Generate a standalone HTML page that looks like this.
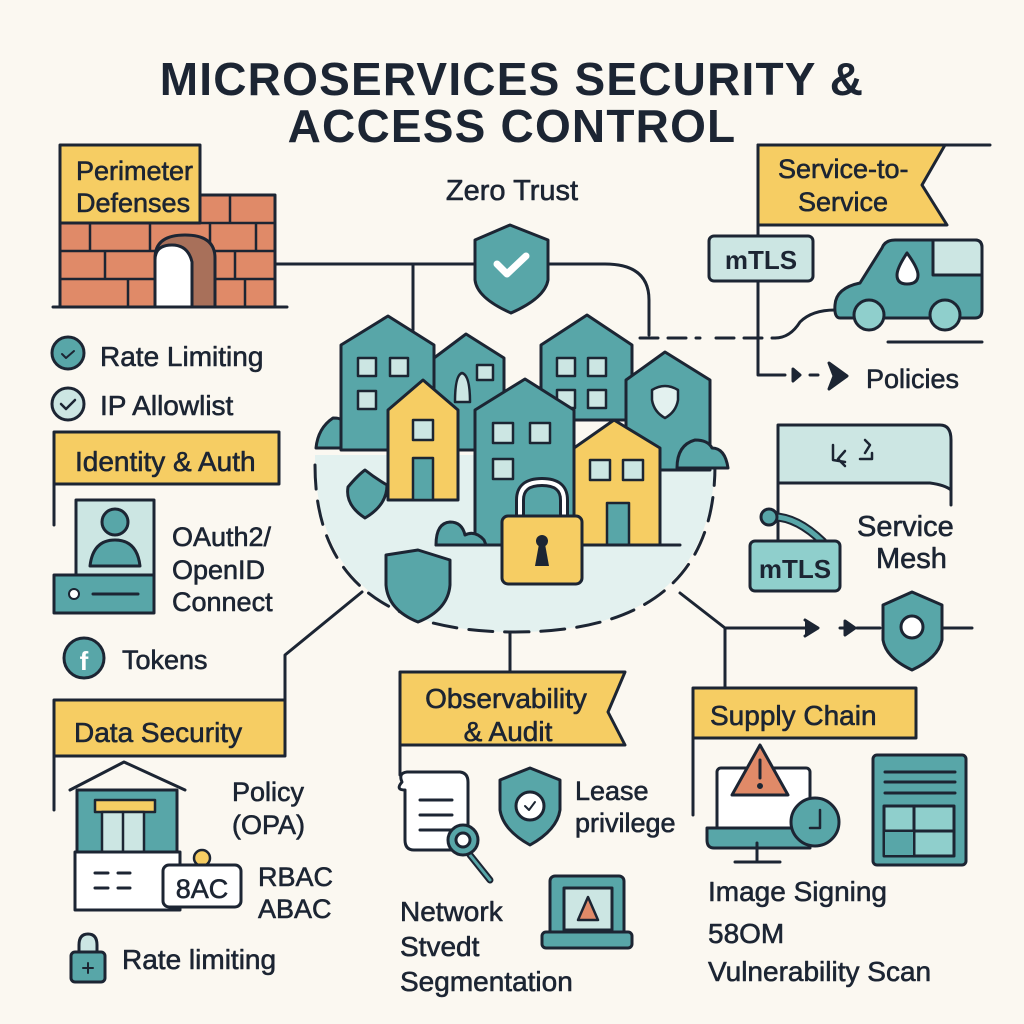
<!DOCTYPE html>
<html><head><meta charset="utf-8"><style>
html,body{margin:0;padding:0;background:#fbf8f1}
svg{display:block}
text{font-family:"Liberation Sans",sans-serif;fill:#1c2533;stroke:#1c2533;stroke-width:0.6}
</style></head><body>
<svg width="1024" height="1024" viewBox="0 0 1024 1024" xmlns="http://www.w3.org/2000/svg">
<rect width="1024" height="1024" fill="#fbf8f1"/>
<g stroke="#1c2533" stroke-width="3" stroke-linejoin="round" stroke-linecap="round">
<text x="512" y="95" text-anchor="middle" font-size="46" font-weight="bold" letter-spacing="1.2" style="stroke-width:0">MICROSERVICES SECURITY &amp;</text>
<text x="512" y="142" text-anchor="middle" font-size="46" font-weight="bold" letter-spacing="1.2" style="stroke-width:0">ACCESS CONTROL</text>

<path d="M275 264 H475 M548 264 H605 Q649 264 649 300 V335" fill="none"/>
<path d="M413 264 V330" fill="none"/>
<path d="M640 338 H700 M716 338 H775" fill="none" stroke-dasharray="18 10"/>
<path d="M775 338 Q790 338 800 322 Q812 310 835 310" fill="none"/>
<path d="M758 225 V375 H785" fill="none"/>
<path d="M810 375 H818" fill="none"/>
<path d="M793 369 L800 375 L793 381Z M829 363 L847 376 L829 389 L834 376Z" fill="#1c2533"/>
<path d="M888 342 H982" fill="none"/>
<text x="866" y="388" font-size="27">Policies</text>

<rect x="60" y="195" width="215" height="112" fill="#e08a68"/>
<path d="M60 223 H275 M60 251 H275 M60 279 H275 M117 195 V223 M175 195 V223 M230 195 V223 M90 223 V251 M150 223 V251 M210 223 V251 M256 223 V251 M105 251 V279 M170 251 V279 M235 251 V279 M128 279 V307 M190 279 V307 M245 279 V307" fill="none" stroke-width="2.5"/>
<path d="M155 307 V258 Q155 235 185 235 Q215 235 215 258 V307Z" fill="#a8705a"/>
<path d="M155 307 V260 Q155 245 172 245 Q188 245 192 262 V307Z" fill="#fff"/>
<path d="M53 307 H287" fill="none"/>
<rect x="60" y="145" width="140" height="78" fill="#f6cd63"/>
<text x="76" y="180" font-size="27">Perimeter</text>
<text x="76" y="212" font-size="27">Defenses</text>

<circle cx="68" cy="353" r="16" fill="#58a6a8"/>
<path d="M62 354 l4 4 l8 -7" fill="none" stroke-width="2"/>
<text x="100" y="366" font-size="28">Rate Limiting</text>
<circle cx="68" cy="404" r="16" fill="#cce6e3"/>
<path d="M61 404 l5 5 l9 -9" fill="none" stroke-width="2.5"/>
<text x="100" y="415" font-size="28">IP Allowlist</text>

<path d="M54 440 V525" fill="none"/>
<rect x="54" y="432" width="225" height="52" fill="#f6cd63"/>
<text x="75" y="471" font-size="28">Identity &amp; Auth</text>
<rect x="76" y="500" width="78" height="75" fill="#cce6e3"/>
<circle cx="115" cy="522" r="13" fill="#58a6a8"/>
<path d="M90 566 Q93 540 115 540 Q137 540 140 566Z" fill="#58a6a8"/>
<rect x="54" y="575" width="100" height="38" fill="#58a6a8"/>
<circle cx="74" cy="594" r="5" fill="#fff" stroke-width="2"/>
<path d="M93 594 H138" fill="none"/>
<text x="172" y="546" font-size="27">OAuth2/</text>
<text x="172" y="579" font-size="27">OpenID</text>
<text x="172" y="611" font-size="27">Connect</text>
<circle cx="84" cy="658" r="20" fill="#58a6a8"/>
<text x="84" y="670" text-anchor="middle" font-size="26" font-weight="bold" style="fill:#fff;stroke:none">f</text>
<text x="122" y="669" font-size="27">Tokens</text>

<path d="M362 592 L285 655 V705" fill="none"/>
<path d="M54 705 V810" fill="none"/>
<rect x="54" y="700" width="231" height="56" fill="#f6cd63"/>
<text x="74" y="742" font-size="28">Data Security</text>

<path d="M70 790 L124 762 L185 790" fill="none"/>
<rect x="77" y="790" width="100" height="83" fill="#58a6a8"/>
<rect x="95" y="800" width="60" height="12" fill="#f6cd63" stroke-width="2.5"/>
<rect x="102" y="812" width="42" height="55" fill="#cce6e3" stroke-width="2.5"/>
<path d="M123 812 V867" fill="none" stroke-width="2.5"/>
<rect x="75" y="852" width="105" height="58" fill="#fff"/>
<path d="M95 873 H108 M118 873 H130 M95 888 H108 M118 888 H130" fill="none"/>
<circle cx="202" cy="858" r="8" fill="#f6cd63" stroke-width="2.5"/>
<rect x="163" y="865" width="78" height="42" rx="6" fill="#fff"/>
<text x="202" y="898" text-anchor="middle" font-size="27">8AC</text>
<text x="232" y="801" font-size="27">Policy</text>
<text x="232" y="834" font-size="27">(OPA)</text>
<text x="258" y="886" font-size="27">RBAC</text>
<text x="258" y="918" font-size="27">ABAC</text>
<path d="M79 955 V945 Q79 934 88 934 Q97 934 97 945 V955" fill="#cce6e3"/>
<rect x="71" y="952" width="34" height="30" rx="4" fill="#58a6a8"/>
<path d="M88 963 V973 M83 968 H93" fill="none" stroke-width="2"/>
<text x="122" y="969" font-size="28">Rate limiting</text>

<path d="M315 455 H715 Q715 632 515 632 Q315 632 315 455Z" fill="#e3f1ef" stroke="none"/>
<path d="M315 465 Q315 632 515 632 Q715 632 715 465" fill="none" stroke-dasharray="24 12"/>
<path d="M510 632 V672 M680 593 L725 628 H805 M857 628 H880 M940 628 H972 M725 628 V688" fill="none"/>
<path d="M840 628 H850" fill="none"/>
<path d="M805 620 L818 628 L805 636 M845 621 L855 628 L845 635Z" fill="#1c2533"/>

<path d="M316 448 Q318 428 333 418 Q340 418 341 420 V448Z" fill="#58a6a8"/>
<path d="M341 450 V345 L388 316 L434 345 V450Z" fill="#58a6a8"/>
<rect x="358" y="358" width="18" height="18" fill="#cce6e3" stroke-width="2.5"/>
<rect x="390" y="358" width="18" height="18" fill="#cce6e3" stroke-width="2.5"/>
<rect x="358" y="391" width="18" height="18" fill="#cce6e3" stroke-width="2.5"/>
<path d="M434 450 V358 L466 334 L504 358 V450Z" fill="#58a6a8"/>
<rect x="477" y="365" width="16" height="15" fill="#cce6e3" stroke-width="2.5"/>
<path d="M455 402 Q455 375 462 373 Q470 375 470 402Z" fill="#cce6e3" stroke-width="2.5"/>
<path d="M541 420 V345 L587 315 L632 345 V420Z" fill="#58a6a8"/>
<rect x="557" y="358" width="18" height="18" fill="#cce6e3" stroke-width="2.5"/>
<rect x="588" y="358" width="18" height="18" fill="#cce6e3" stroke-width="2.5"/>
<rect x="557" y="390" width="18" height="18" fill="#cce6e3" stroke-width="2.5"/>
<rect x="588" y="390" width="18" height="18" fill="#cce6e3" stroke-width="2.5"/>
<path d="M626 470 V380 L665 352 L710 380 V470Z" fill="#58a6a8"/>
<path d="M652 390 Q665 382 678 390 V400 Q676 412 665 418 Q654 412 652 400Z" fill="#e3f1ef" stroke-width="2.5"/>
<path d="M677 468 Q677 445 695 440 Q708 440 712 448 Q725 448 728 468Z" fill="#58a6a8"/>
<path d="M388 500 V410 L423 380 L458 410 V500Z" fill="#f6cd63"/>
<rect x="413" y="420" width="20" height="20" fill="#cce6e3" stroke-width="2.5"/>
<rect x="413" y="458" width="20" height="42" fill="#58a6a8" stroke-width="2.5"/>
<path d="M348 487 Q358 475 365 470 Q375 478 387 485 Q387 505 365 518 Q345 505 348 487Z" fill="#58a6a8"/>
<path d="M475 545 V410 L525 379 L574 410 V545Z" fill="#58a6a8"/>
<rect x="493" y="423" width="20" height="20" fill="#cce6e3" stroke-width="2.5"/>
<rect x="530" y="423" width="20" height="20" fill="#cce6e3" stroke-width="2.5"/>
<rect x="493" y="459" width="20" height="20" fill="#cce6e3" stroke-width="2.5"/>
<path d="M574 545 V448 L614 420 L660 448 V545Z" fill="#f6cd63"/>
<rect x="590" y="460" width="20" height="20" fill="#cce6e3" stroke-width="2.5"/>
<rect x="623" y="460" width="20" height="20" fill="#cce6e3" stroke-width="2.5"/>
<rect x="607" y="503" width="22" height="42" fill="#58a6a8" stroke-width="2.5"/>
<path d="M436 545 Q436 523 450 522 Q462 522 465 535 Q475 530 484 540 L486 545Z" fill="#58a6a8"/>
<path d="M436 545 H680" fill="none"/>
<path d="M520 516 V500 Q520 482 542 482 Q564 482 564 500 V516" fill="none" stroke="#1c2533" stroke-width="10"/>
<path d="M520 516 V500 Q520 482 542 482 Q564 482 564 500 V516" fill="none" stroke="#fff" stroke-width="4"/>
<rect x="502" y="516" width="80" height="68" rx="6" fill="#f6cd63"/>
<circle cx="542" cy="541" r="6" fill="#1c2533" stroke="none"/>
<path d="M539 544 L535 566 H549 L545 544Z" fill="#1c2533" stroke="none"/>
<path d="M386 555 L418 550 L450 560 V585 Q448 610 418 622 Q388 610 386 585Z" fill="#58a6a8"/>

<text x="512" y="200" text-anchor="middle" font-size="29">Zero Trust</text>
<path d="M475 240 L510 225 L548 240 V280 Q545 298 511 313 Q477 298 475 280Z" fill="#58a6a8"/>
<path d="M497 264 L507 274 L526 256" fill="none" stroke="#fff" stroke-width="7"/>

<path d="M758 145 H990" fill="none"/>
<path d="M758 145 H945 L922 185 L947 225 H758Z" fill="#f6cd63"/>
<text x="778" y="178" font-size="27">Service-to-</text>
<text x="798" y="211" font-size="27">Service</text>
<rect x="709" y="236" width="104" height="45" rx="5" fill="#cce6e3"/>
<text x="761" y="269" text-anchor="middle" font-size="26" font-weight="bold" style="stroke-width:0">mTLS</text>
<path d="M835 305 Q836 288 860 283 L882 248 Q885 240 895 240 H975 Q982 240 982 248 V310 Q982 318 975 318 H840 Q834 318 835 305Z" fill="#58a6a8"/>
<path d="M933 240 H975 Q982 240 982 248 V275 H933Z" fill="#cce6e3"/>
<path d="M907 253 Q897 268 897 275 Q897 284 907 284 Q918 284 918 275 Q918 268 907 253Z" fill="#fff"/>
<circle cx="869" cy="315" r="15" fill="#8fcfcc"/>
<circle cx="945" cy="315" r="15" fill="#8fcfcc"/>

<path d="M778 425 H940 Q951 425 951 440 V490 Q945 485 930 483 H778Z" fill="#cce6e3"/>
<path d="M951 490 V505 M778 483 V545" fill="none"/>
<path d="M833 445 V460 L845 462 M845 466 L838 459 L845 451 M865 440 L870 445 L865 453 M860 459 H872 V453" fill="none" stroke-width="2.5"/>
<path d="M770 517 Q795 515 823 542" fill="none" stroke="#1c2533" stroke-width="9"/>
<path d="M770 517 Q795 515 823 542" fill="none" stroke="#58a6a8" stroke-width="5"/>
<circle cx="769" cy="517" r="8" fill="#58a6a8"/>
<rect x="750" y="541" width="90" height="50" rx="5" fill="#8fcfcc"/>
<text x="795" y="578" text-anchor="middle" font-size="26" font-weight="bold" style="stroke-width:0">mTLS</text>
<text x="857" y="536" font-size="29">Service</text>
<text x="876" y="568" font-size="29">Mesh</text>
<path d="M883 605 L912 592 L942 605 V640 Q938 658 912 670 Q886 658 883 640Z" fill="#58a6a8"/>
<circle cx="912" cy="627" r="11" fill="#fff"/>

<path d="M400 672 H625 L608 712 L625 745 H400Z" fill="#f6cd63"/>
<text x="506" y="708" text-anchor="middle" font-size="28">Observability</text>
<text x="508" y="741" text-anchor="middle" font-size="28">&amp; Audit</text>
<path d="M400 745 V775" fill="none"/>
<path d="M402 782 Q398 773 407 772 H460 Q468 773 468 782 V850 H414 Q405 850 405 840 V790 Q395 790 402 782Z" fill="#fff"/>
<path d="M420 800 H452 M420 815 H452 M420 830 H452" fill="none"/>
<path d="M470 855 L490 880" fill="none" stroke-width="7"/>
<path d="M470 855 L490 880" fill="none" stroke="#58a6a8" stroke-width="3"/>
<circle cx="463" cy="840" r="15" fill="#58a6a8"/>
<circle cx="463" cy="840" r="7" fill="#fff"/>
<path d="M500 780 L530 768 L560 780 V810 Q557 830 530 845 Q503 830 500 810Z" fill="#58a6a8"/>
<circle cx="530" cy="806" r="14" fill="#fff"/>
<path d="M525 806 l4 4 l6 -8" fill="none" stroke-width="2"/>
<text x="575" y="800" font-size="27">Lease</text>
<text x="575" y="832" font-size="27">privilege</text>
<rect x="550" y="876" width="74" height="62" rx="5" fill="#58a6a8"/>
<rect x="564" y="888" width="48" height="42" fill="#cce6e3"/>
<path d="M588 897 L598 920 H578Z" fill="#e08a68" stroke-width="2.5"/>
<rect x="542" y="932" width="90" height="16" rx="4" fill="#58a6a8"/>
<text x="400" y="921" font-size="28">Network</text>
<text x="400" y="956" font-size="28">Stvedt</text>
<text x="400" y="991" font-size="28">Segmentation</text>

<rect x="693" y="688" width="223" height="50" fill="#f6cd63"/>
<path d="M693 738 V815" fill="none"/>
<text x="710" y="725" font-size="28">Supply Chain</text>
<rect x="717" y="768" width="93" height="72" rx="4" fill="#fff"/>
<path d="M707 828 H810 V848 H714 Q707 848 707 840Z" fill="#58a6a8"/>
<path d="M757 843 V860 M735 862 H780" fill="none"/>
<path d="M760 745 L788 795 H732Z" fill="#e08a68"/>
<path d="M760 760 V778" fill="none"/>
<circle cx="760" cy="786" r="1.5" fill="#1c2533"/>
<circle cx="815" cy="822" r="24" fill="#58a6a8"/>
<path d="M820 810 V828 H810" fill="none" stroke-width="2.5"/>
<rect x="873" y="755" width="93" height="110" rx="4" fill="#58a6a8"/>
<path d="M885 772 H955 M885 782 H955 M885 793 H955" fill="none"/>
<rect x="884" y="806" width="70" height="50" fill="#8fcfcc"/>
<path d="M884 831 H954 M914 806 V856" fill="none"/>
<rect x="885" y="832" width="28" height="23" fill="#58a6a8" stroke="none"/>
<text x="708" y="901" font-size="28">Image Signing</text>
<text x="708" y="943" font-size="28">58OM</text>
<text x="708" y="981" font-size="28">Vulnerability Scan</text>
</g>
</svg>
</body></html>
